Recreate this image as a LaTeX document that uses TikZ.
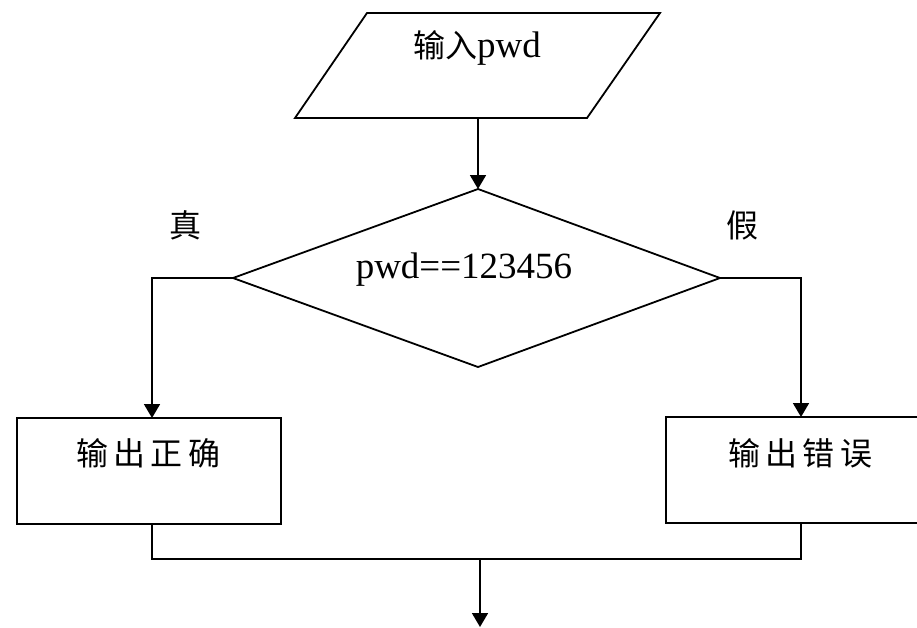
\documentclass[tikz,border=0pt]{standalone}
\usepackage{fontspec}
\setmainfont{Liberation Serif}
\newfontfamily\cjk{Noto Sans CJK SC}
\usetikzlibrary{arrows.meta}
\begin{document}
\begin{tikzpicture}[x=1pt,y=-1pt,
  line/.style={line width=1.8pt,line join=miter},
  arr/.style={line, -{Triangle[width=16pt,length=14pt]}},
  txt/.style={inner sep=0pt,font=\fontsize{37}{42}\selectfont},
  lbl/.style={inner sep=0pt,font=\cjk\fontsize{32}{38}\selectfont}]
\useasboundingbox (0,0) rectangle (917,627);
% parallelogram
\coordinate (p1) at (367,13);
\coordinate (p2) at (660,13);
\coordinate (p3) at (587,118);
\coordinate (p4) at (295,118);
\coordinate (pb) at (478,118);
\draw[line] (p1) -- (p2) -- (p3) -- (p4) -- cycle;
\node[txt] (in) at (477,48) {{\cjk\fontsize{32}{38}\selectfont 输入}pwd};
% diamond
\coordinate (dt) at (478,189);
\coordinate (dl) at (233,278);
\coordinate (dr) at (720,278);
\coordinate (db) at (478,367);
\draw[line] (dt) -- (dr) -- (db) -- (dl) -- cycle;
\node[txt] (cond) at (464,270) {pwd==123456};
\draw[arr] (pb) -- (dt);
% labels
\node[lbl] (t) at (185,225) {真};
\node[lbl] (f) at (742,225) {假};
% boxes
\coordinate (lt) at (152,418);
\coordinate (lb) at (152,524);
\coordinate (rt) at (801,417);
\coordinate (rb) at (801,523);
\draw[line] (17,418) rectangle (281,524);
\draw[line] (666,417) rectangle (920,523);
\node[lbl] (ok) at (148,453) {输\,出\,正\,确};
\node[lbl] (err) at (800,453) {输\,出\,错\,误};
% branches
\coordinate (ll) at (152,278);
\coordinate (rr) at (801,278);
\draw[arr] (dl) -- (ll) -- (lt);
\draw[arr] (dr) -- (rr) -- (rt);
% merge
\coordinate (ml) at (152,559);
\coordinate (mr) at (801,559);
\coordinate (mm) at (480,559);
\coordinate (end) at (480,627);
\draw[line] (lb) -- (ml) -- (mr) -- (rb);
\draw[arr] (mm) -- (end);
\end{tikzpicture}
\end{document}
